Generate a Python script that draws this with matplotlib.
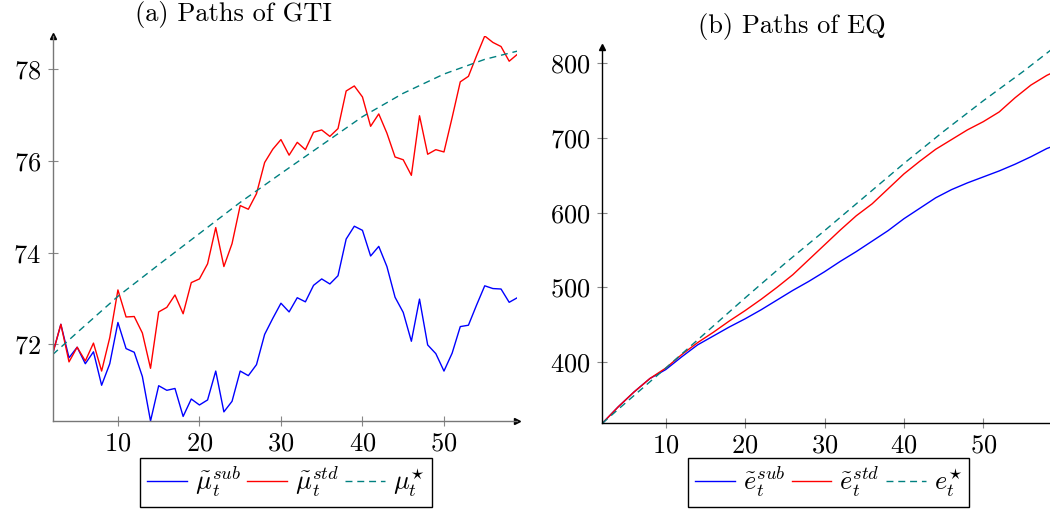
import numpy as np
import matplotlib
matplotlib.use("Agg")
import matplotlib.pyplot as plt

plt.rcParams['font.family'] = 'serif'
plt.rcParams['font.serif'] = ['cmr10', 'DejaVu Serif']
plt.rcParams['mathtext.fontset'] = 'cm'
plt.rcParams['axes.formatter.use_mathtext'] = True

# (a) paths of GTI, t = 2..59
t_gti = list(range(2, 60))
gti_sub = [71.80, 72.44, 71.71, 71.94, 71.58, 71.84, 71.11, 71.58, 72.48, 71.91,
           71.83, 71.30, 70.33, 71.10, 71.00, 71.04, 70.43, 70.81, 70.68, 70.79,
           71.42, 70.53, 70.76, 71.42, 71.32, 71.56, 72.22, 72.57, 72.90, 72.71,
           73.02, 72.93, 73.29, 73.43, 73.32, 73.50, 74.30, 74.58, 74.49, 73.93,
           74.14, 73.70, 73.03, 72.70, 72.07, 72.99, 71.99, 71.80, 71.42, 71.81,
           72.39, 72.42, 72.86, 73.28, 73.22, 73.21, 72.92, 73.02]
gti_std = [71.80, 72.44, 71.62, 71.94, 71.64, 72.03, 71.42, 72.15, 73.19, 72.60,
           72.61, 72.25, 71.48, 72.71, 72.81, 73.08, 72.67, 73.35, 73.43, 73.76,
           74.55, 73.70, 74.20, 75.03, 74.95, 75.29, 75.97, 76.26, 76.47, 76.13,
           76.41, 76.25, 76.63, 76.68, 76.54, 76.71, 77.53, 77.64, 77.40, 76.76,
           77.03, 76.61, 76.09, 76.03, 75.69, 76.99, 76.15, 76.25, 76.20, 76.95,
           77.73, 77.85, 78.30, 78.73, 78.59, 78.50, 78.18, 78.33]
t_gti_opt = [2, 5, 10, 15, 20, 25, 30, 35, 40, 45, 50, 55, 59]
gti_opt = [71.78, 72.26, 73.05, 73.74, 74.42, 75.10, 75.73, 76.35, 76.97, 77.48, 77.90, 78.22, 78.40]

# (b) paths of EQ
t_eq = [2, 4, 6, 8, 10, 12, 14, 16, 18, 20, 22, 24, 26, 28, 30, 32, 34, 36, 38, 40,
        42, 44, 46, 48, 50, 52, 54, 56, 58, 59]
eq_sub = [318, 340, 360, 378, 390, 407, 423, 435, 447, 458, 470, 483, 496, 508, 521,
          535, 548, 562, 576, 592, 606, 620, 631, 640, 648, 656, 665, 675, 686, 690]
eq_std = [318, 340, 360, 378, 392, 410, 426, 440, 455, 469, 484, 500, 517, 537, 557,
          577, 596, 612, 632, 652, 669, 685, 698, 711, 722, 735, 754, 771, 784, 789]
t_eq_opt = [2, 5, 10, 15, 20, 25, 30, 35, 40, 45, 50, 55, 59]
eq_opt = [318, 346, 392, 439, 486, 532, 576, 621, 666, 709, 750, 789, 822]

xticks = [10, 20, 30, 40, 50]
gti_yticks = [72, 74, 76, 78]
eq_yticks = [400, 500, 600, 700, 800]

fig = plt.figure(figsize=(10.5, 5.12), dpi=100)
ax1 = fig.add_axes([0.0502, 0.1777, 0.4425, 0.752])
ax2 = fig.add_axes([0.5736, 0.1732, 0.4309, 0.735])


def style(ax, spine_col):
    for s in ['top', 'right']:
        ax.spines[s].set_visible(False)
    for s in ['left', 'bottom']:
        ax.spines[s].set_color(spine_col)
        ax.spines[s].set_linewidth(1.0)
    ax.tick_params(direction='inout', length=7, width=0.8, color='#888888',
                   labelsize=19)
    ax.tick_params(axis='x', pad=4)
    ax.tick_params(axis='y', pad=5)
    ax.plot(1, 0, '>', color='k', ms=4, transform=ax.transAxes, clip_on=False)
    ax.plot(0, 1, '^', color='k', ms=4, transform=ax.transAxes, clip_on=False)


ax1.plot(t_gti, gti_sub, color='#0000ff', lw=1.0, label=r'$\tilde{\mu}_t^{sub}$')
ax1.plot(t_gti, gti_std, color='#ff0000', lw=1.0, label=r'$\tilde{\mu}_t^{std}$')
ax1.plot(t_gti_opt, gti_opt, color='#008080', lw=1.0, dashes=(5, 3.5),
         label=r'$\mu_t^{\star}$')
ax1.set_xlim(2, 59)
ax1.set_ylim(min(gti_sub), max(gti_std))
ax1.set_xticks(xticks)
ax1.set_yticks(gti_yticks)
style(ax1, '#777777')

ax2.plot(t_eq, eq_sub, color='#0000ff', lw=1.0, label=r'$\tilde{e}_t^{sub}$')
ax2.plot(t_eq, eq_std, color='#ff0000', lw=1.0, label=r'$\tilde{e}_t^{std}$')
ax2.plot(t_eq_opt, eq_opt, color='#008080', lw=1.0, dashes=(5, 3.5),
         label=r'$e_t^{\star}$')
ax2.set_xlim(2, 59)
ax2.set_ylim(min(eq_sub), max(eq_opt))
ax2.set_xticks(xticks)
ax2.set_yticks(eq_yticks)
style(ax2, 'k')

fig.text(233 / 1050, 1 - 14 / 512, '(a) Paths of GTI', ha='center', va='center', fontsize=19)
fig.text(792 / 1050, 1 - 27 / 512, '(b) Paths of EQ', ha='center', va='center', fontsize=19)

for ax, cx in [(ax1, 286 / 1050), (ax2, 828.7 / 1050)]:
    leg = ax.legend(loc='lower center', bbox_to_anchor=(cx, 5.5 / 512),
                    bbox_transform=fig.transFigure, borderaxespad=0, ncol=3,
                    fontsize=19, handlelength=1.5, handletextpad=0.3,
                    columnspacing=0.25, borderpad=0.27, fancybox=False,
                    framealpha=1)
    leg.get_frame().set_edgecolor('k')
    leg.get_frame().set_linewidth(1.0)

fig.savefig('out.png', dpi=100)
